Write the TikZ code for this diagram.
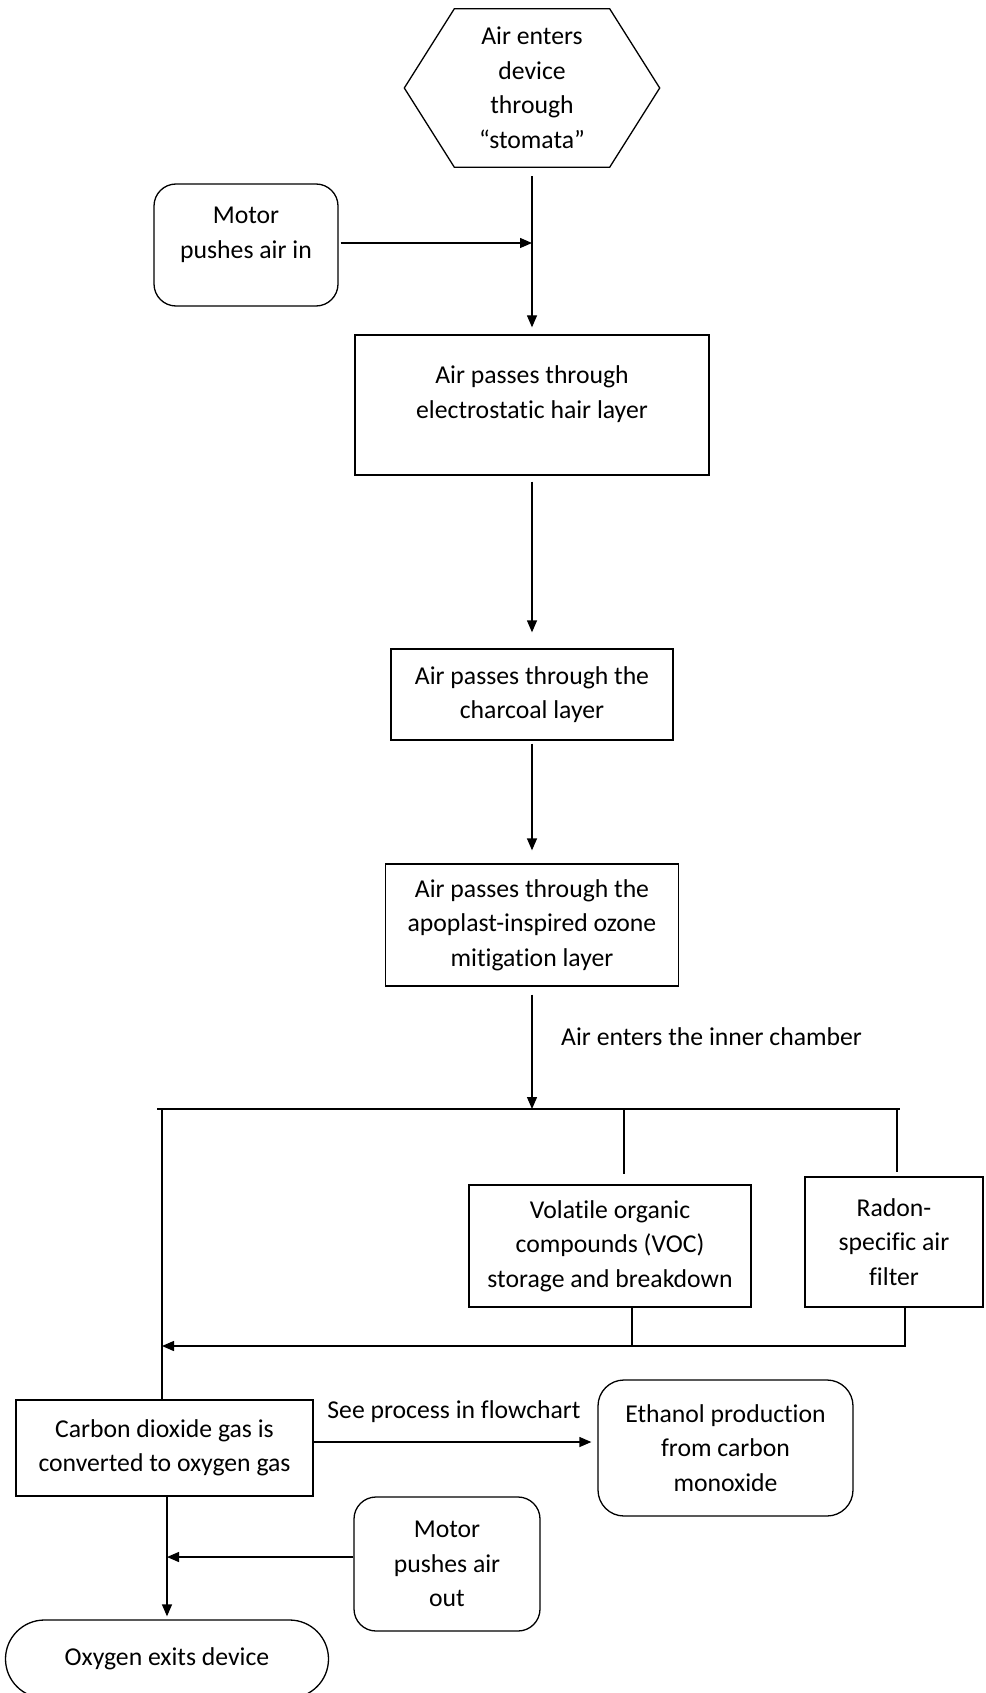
\documentclass[tikz,border=0pt]{standalone}
\usepackage{fontspec}
\setmainfont{Carlito}[Ligatures=NoCommon]
\usetikzlibrary{arrows.meta,shapes.misc}
\begin{document}
\begin{tikzpicture}[x=1pt,y=-1pt,
  every node/.style={font=\fontsize{25.7}{34.5}\selectfont, align=center, inner sep=0pt},
  box/.style={draw, line width=1.3pt},
  rbox/.style={draw, line width=1.3pt, rounded corners=22pt},
  conn/.style={line width=1.3pt},
  arr/.style={conn, -{Triangle[length=12pt,width=10pt]}}
]
\useasboundingbox (0,0) rectangle (985,1693);

% nodes
\node[minimum width=255pt, minimum height=158pt] (hex) at (532,88) {Air enters\\device\\through\\“stomata”};
\draw[conn] (hex.west) -- ([xshift=50pt]hex.north west) -- ([xshift=-50pt]hex.north east) -- (hex.east) -- ([xshift=-50pt]hex.south east) -- ([xshift=50pt]hex.south west) -- cycle;

\node[rbox, minimum width=184pt, minimum height=122pt] (motorin) at (246,245) {};
\node (motorinlbl) at (246,235) {Motor\\pushes air in};

\node[box, minimum width=354pt, minimum height=140pt] (elec) at (532,405) {};
\node (eleclbl) at (532,394) {Air passes through\\electrostatic hair layer};

\node[box, minimum width=282pt, minimum height=91pt] (charcoal) at (532,694.5) {Air passes through the\\charcoal layer};
\node[box, minimum width=293pt, minimum height=122pt] (ozone) at (532,925) {Air passes through the\\apoplast-inspired ozone\\mitigation layer};
\node[box, minimum width=282pt, minimum height=122pt] (voc) at (610,1246) {Volatile organic\\compounds (VOC)\\storage and breakdown};
\node[box, minimum width=178pt, minimum height=130pt] (radon) at (894,1242) {Radon-\\specific air\\filter};
\node[box, minimum width=297pt, minimum height=96pt] (co2) at (164.5,1448) {Carbon dioxide gas is\\converted to oxygen gas};
\node[rbox, rounded corners=26pt, minimum width=255pt, minimum height=136pt] (ethanol) at (725.5,1448) {Ethanol production\\from carbon\\monoxide};
\node[rbox, minimum width=186pt, minimum height=134pt] (motorout) at (447,1564) {Motor\\pushes air\\out};
\node[draw, line width=1.3pt, rounded rectangle, minimum width=323pt, minimum height=78pt] (oxygen) at (167,1659) {Oxygen exits device};

\node[anchor=west] (chamberlbl) at (561,1037) {Air enters the inner chamber};
\node (seelbl) at (454,1412) {See process in flowchart};

% coordinates
\coordinate (jin) at (532,243);
\coordinate (busL) at (157,1109);
\coordinate (busR) at (900,1109);
\coordinate (vocin) at (624,1109);
\coordinate (radin) at (897,1109);
\coordinate (leftT) at (162,1109);
\coordinate (vocout) at (632,1346);
\coordinate (radout) at (905,1346);
\coordinate (jret) at (162,1346);
\coordinate (cy) at (0,1442);
\coordinate (jout) at (167,1557);

% connectors
\draw[arr, shorten <=9pt, shorten >=7pt] (hex.south) -- (hex.south |- elec.north);
\draw[arr, shorten <=2pt] (motorin.east |- jin) -- (jin);
\draw[arr, shorten <=6pt, shorten >=16pt] (elec.south) -- (charcoal.north);
\draw[arr, shorten <=3pt, shorten >=13pt] (charcoal.south) -- (ozone.north);
\draw[arr, shorten <=8pt] (ozone.south) -- (ozone.south |- busL);
\draw[conn] (busL) -- (busR);
\draw[conn, shorten >=10pt] (vocin) -- (vocin |- voc.north);
\draw[conn, shorten >=4pt] (radin) -- (radin |- radon.north);
\draw[conn] (leftT) -- (leftT |- co2.north);
\draw[conn] (vocout |- voc.south) -- (vocout) -- (radout) -- (radout |- radon.south);
\draw[arr] (vocout) -- (jret);
\draw[arr, shorten >=6pt] (co2.east |- cy) -- (ethanol.west |- cy);
\draw[arr, shorten >=3pt] (oxygen.north |- co2.south) -- (oxygen.north);
\draw[arr] (motorout.west |- jout) -- (jout);
\end{tikzpicture}
\end{document}
